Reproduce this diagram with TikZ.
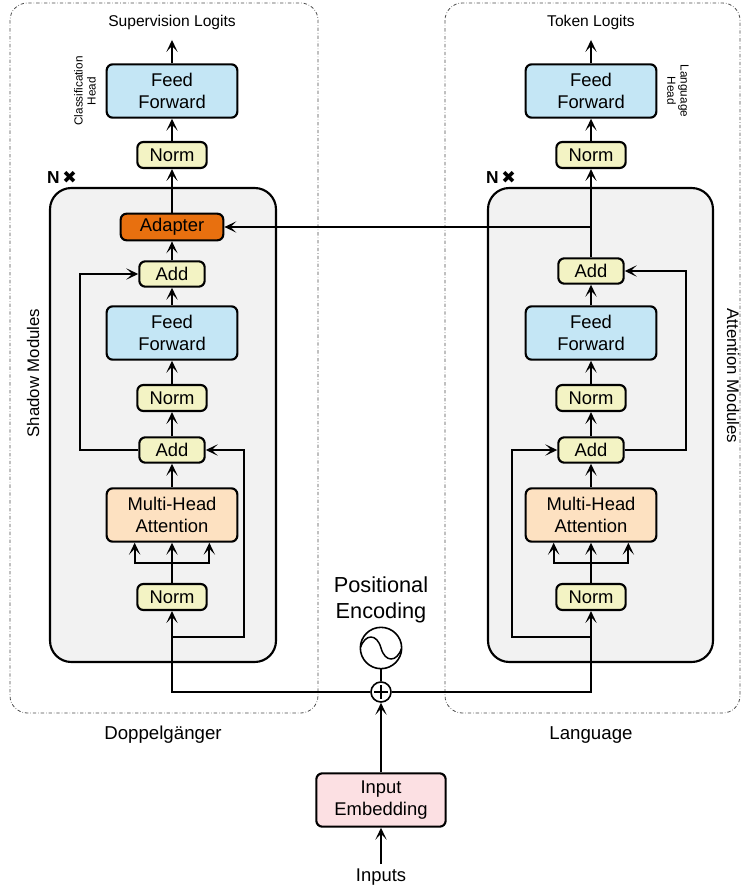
\documentclass[tikz,border=0pt]{standalone}
\usepackage{fontspec}
\setmainfont{Liberation Sans}
\newfontfamily\symfont{DejaVu Sans}
\usetikzlibrary{arrows.meta}

\definecolor{ffblue}{HTML}{C4E6F5}
\definecolor{normyel}{HTML}{F3F3C4}
\definecolor{mhapeach}{HTML}{FDE1C1}
\definecolor{adaptorange}{HTML}{E8700F}
\definecolor{embpink}{HTML}{FCE0E3}
\definecolor{stackgray}{HTML}{F2F2F2}

\tikzset{
  box/.style={draw, line width=1.6pt, rounded corners=4.5pt, align=center, inner sep=0pt,
    font=\fontsize{13.8}{17}\selectfont},
  ffbox/.style={box, fill=ffblue, minimum width=98pt, minimum height=40pt},
  mhabox/.style={box, fill=mhapeach, minimum width=98pt, minimum height=40pt},
  embbox/.style={box, fill=embpink, minimum width=97pt, minimum height=40pt},
  normbox/.style={box, fill=normyel, minimum width=52pt, minimum height=19.5pt},
  addbox/.style={box, fill=normyel, minimum width=49pt, minimum height=19pt},
  adaptbox/.style={box, fill=adaptorange, minimum width=77pt, minimum height=20pt},
  logitlbl/.style={font=\fontsize{11.7}{14}\selectfont},
  grouplbl/.style={font=\fontsize{14}{17}\selectfont},
  sidelbl/.style={font=\fontsize{12.6}{15}\selectfont},
  headlbl/.style={align=center, inner sep=0pt, font=\fontsize{8.8}{9.8}\selectfont},
  nxlbl/.style={font=\fontsize{13}{15}\selectfont\bfseries},
  groupbox/.style={draw=black!70, line width=0.6pt, rounded corners=13pt,
    dash pattern=on 2.5pt off 1.5pt on 0.4pt off 1.5pt},
  stackbox/.style={draw, fill=stackgray, line width=1.6pt, rounded corners=16pt},
  arr/.style={line width=1.6pt, -{Stealth[length=9pt,width=8.5pt,inset=4.5pt]}},
  wire/.style={line width=1.6pt},
}

\begin{document}
\begin{tikzpicture}[x=0.75pt,y=-0.75pt]
  \useasboundingbox (0,0) rectangle (742,888);

  % groups
  \draw[groupbox] (10,3) rectangle (318,713);
  \draw[groupbox] (445,3) rectangle (740,713);
  \draw[stackbox] (50,188) rectangle (276,662);
  \draw[stackbox] (488,188) rectangle (713,662);

  % labels
  \node[logitlbl] (supL) at (172,22) {Supervision Logits};
  \node[logitlbl] (tokR) at (591,22) {Token Logits};
  \node[grouplbl] (dopL) at (163,735) {Doppelgänger};
  \node[grouplbl] (lanR) at (591,735) {Language};
  \node[headlbl, rotate=90] (clsL) at (85,91) {Classification\\Head};
  \node[headlbl, rotate=-90] (lanH) at (678,91) {Language\\Head};
  \node[sidelbl, rotate=90] (shdL) at (33,373) {Shadow Modules};
  \node[sidelbl, rotate=-90] (attR) at (733,376) {Attention Modules};
  \node[nxlbl] (nL) at (62,177) {N\,{\symfont ✖}};
  \node[nxlbl] (nR) at (501,177) {N\,{\symfont ✖}};

  % left column
  \node[ffbox] (ffhL) at (172,91) {Feed\\Forward};
  \node[normbox] (normhL) at (172,155) {Norm};
  \node[adaptbox] (adaptL) at (172,227) {Adapter};
  \node[addbox] (addtL) at (172,274) {Add};
  \node[ffbox] (ffL) at (172,333) {Feed\\Forward};
  \node[normbox] (normmL) at (172,398) {Norm};
  \node[addbox] (addbL) at (172,450) {Add};
  \node[mhabox] (mhaL) at (172,515) {Multi-Head\\Attention};
  \node[normbox] (normbL) at (172,597) {Norm};

  % right column
  \node[ffbox] (ffhR) at (591,91) {Feed\\Forward};
  \node[normbox] (normhR) at (591,155) {Norm};
  \node[addbox] (addtR) at (591,271) {Add};
  \node[ffbox] (ffR) at (591,333) {Feed\\Forward};
  \node[normbox] (normmR) at (591,398) {Norm};
  \node[addbox] (addbR) at (591,450) {Add};
  \node[mhabox] (mhaR) at (591,515) {Multi-Head\\Attention};
  \node[normbox] (normbR) at (591,597) {Norm};

  % input side
  \node[align=center, font=\fontsize{16.3}{19}\selectfont] (peL) at (381,600) {Positional\\Encoding};
  \node[circle, draw, line width=1.2pt, minimum size=31pt, inner sep=0pt,
    path picture={\draw[line width=1.1pt, shift={(path picture bounding box.center)}]
      (-15.5pt,0pt) .. controls (-12pt,11pt) and (-3pt,11pt) .. (0pt,0pt)
      .. controls (3pt,-11pt) and (12pt,-11pt) .. (15.5pt,0pt);}] (pe) at (381,648) {};
  \node[circle, draw, fill=white, line width=1.2pt, minimum size=15pt, inner sep=0pt,
    path picture={\draw[line width=1.2pt] (path picture bounding box.center) +(-5pt,0pt) -- +(5pt,0pt)
      (path picture bounding box.center) +(0pt,-5pt) -- +(0pt,5pt);}] (plus) at (381,692) {};
  \node[embbox] (emb) at (381,800) {Input\\Embedding};
  \node[font=\fontsize{13.8}{17}\selectfont] (inp) at (381,877) {Inputs};

  \coordinate (forkL) at (172,563);
  \coordinate (forkR) at (591,563);
  \coordinate (resL) at (172,637);
  \coordinate (resR) at (591,637);

  % left connectors
  \draw[arr, shorten >=4.5pt] (ffhL) -- (supL);
  \draw[arr] (normhL) -- (ffhL);
  \draw[arr] (adaptL) -- (normhL);
  \draw[arr] (addtL) -- (adaptL);
  \draw[arr] (ffL) -- (addtL);
  \draw[arr] (normmL) -- (ffL);
  \draw[arr] (addbL) -- (normmL);
  \draw[arr] (mhaL) -- (addbL);
  \draw[wire] (normbL) -- (forkL);
  \draw[arr] (forkL) -- (mhaL);
  \draw[arr] (forkL) -| ([xshift=-28pt]mhaL.south);
  \draw[arr] (forkL) -| ([xshift=28pt]mhaL.south);
  \draw[arr] (resL) -- ++(72,0) |- (addbL);
  \draw[arr] (addbL.west) -- ++(-58,0) |- (addtL);

  % right connectors
  \draw[arr, shorten >=4.5pt] (ffhR) -- (tokR);
  \draw[arr] (normhR) -- (ffhR);
  \draw[arr] (addtR) -- (normhR);
  \draw[arr] (addtR.north |- adaptL) -- (adaptL);
  \draw[arr] (ffR) -- (addtR);
  \draw[arr] (normmR) -- (ffR);
  \draw[arr] (addbR) -- (normmR);
  \draw[arr] (mhaR) -- (addbR);
  \draw[wire] (normbR) -- (forkR);
  \draw[arr] (forkR) -- (mhaR);
  \draw[arr] (forkR) -| ([xshift=-28pt]mhaR.south);
  \draw[arr] (forkR) -| ([xshift=28pt]mhaR.south);
  \draw[arr] (resR) -- ++(-79,0) |- (addbR);
  \draw[arr] (addbR.east) -- ++(61,0) |- (addtR);

  % bus
  \draw[line width=1.1pt] (pe) -- (plus);
  \draw[arr] (plus) -| (normbL);
  \draw[arr] (plus) -| (normbR);
  \draw[arr] (emb) -- (plus);
  \draw[arr] (inp) -- (emb);
\end{tikzpicture}
\end{document}
